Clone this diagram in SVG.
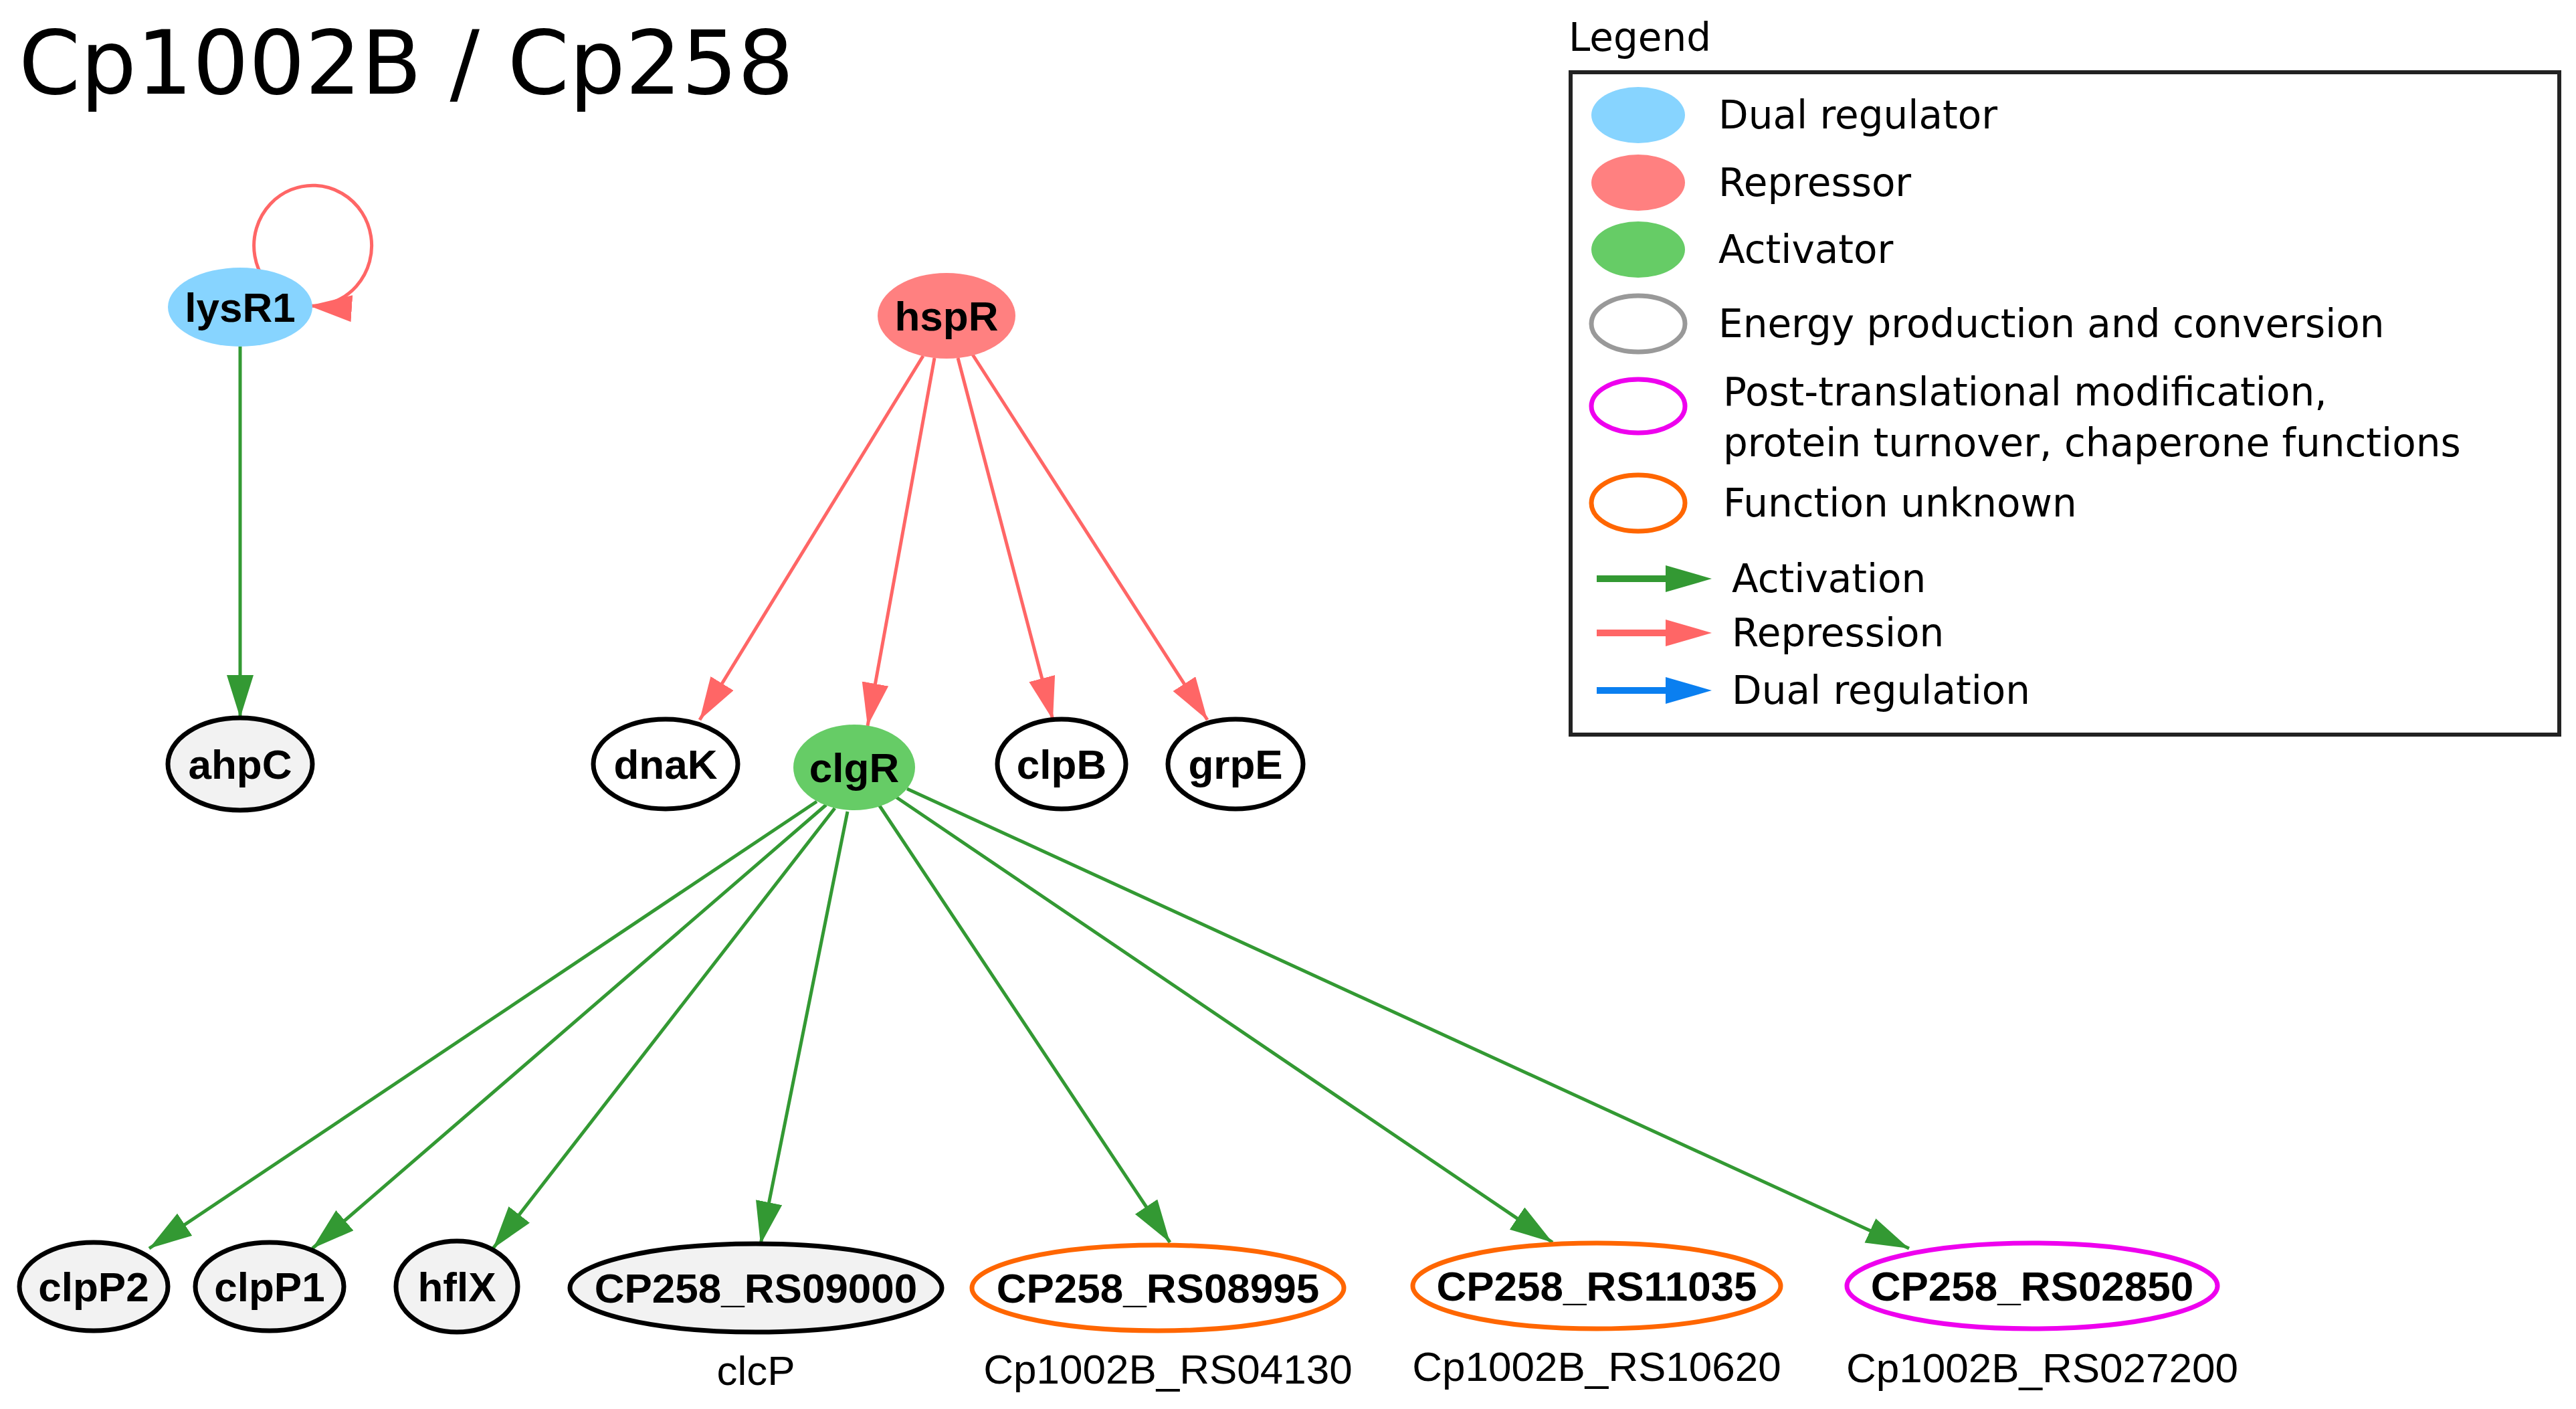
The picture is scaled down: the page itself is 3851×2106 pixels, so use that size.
<svg xmlns="http://www.w3.org/2000/svg" width="3851" height="2106" viewBox="0 0 3851 2106">
<style>
.n{font-family:"Liberation Sans",Arial,sans-serif;font-weight:bold;font-size:62px;text-anchor:middle;dominant-baseline:central;fill:#000}
.s{font-family:"Liberation Sans",Arial,sans-serif;font-size:62px;text-anchor:middle;fill:#000}
.l{font-family:"DejaVu Sans",sans-serif;font-size:58px;fill:#000}
.g{fill:#f2f2f2;stroke:#000;stroke-width:7}
.w{fill:#fff;stroke:#000;stroke-width:7}
.act{stroke:#339933;stroke-width:5;fill:none;marker-end:url(#ag)}
.rep{stroke:#ff6666;stroke-width:5;fill:none;marker-end:url(#ar)}
</style>
<defs>
<marker id="ag" markerUnits="userSpaceOnUse" markerWidth="70" markerHeight="50" refX="64" refY="20" orient="auto"><path d="M0,0 L64,20 L0,40 Z" fill="#339933"/></marker>
<marker id="ar" markerUnits="userSpaceOnUse" markerWidth="70" markerHeight="50" refX="64" refY="20" orient="auto"><path d="M0,0 L64,20 L0,40 Z" fill="#ff6666"/></marker>
</defs>
<rect width="3851" height="2106" fill="#fff"/>
<text x="28" y="140" font-family="DejaVu Sans,sans-serif" font-size="132">Cp1002B / Cp258</text>
<g id="edges">
<path class="rep" d="M395,418 A88,90 0 1 1 462,457"/>
<line class="act" x1="359" y1="518" x2="359" y2="1073"/>
<line class="rep" x1="1380" y1="532" x2="1046" y2="1076"/>
<line class="rep" x1="1397" y1="535" x2="1297" y2="1085"/>
<line class="rep" x1="1432" y1="535" x2="1574" y2="1076"/>
<line class="rep" x1="1454" y1="530" x2="1805" y2="1076"/>
<line class="act" x1="1221" y1="1198" x2="223" y2="1866"/>
<line class="act" x1="1235" y1="1203" x2="467" y2="1866"/>
<line class="act" x1="1248" y1="1208" x2="737" y2="1866"/>
<line class="act" x1="1267" y1="1213" x2="1137" y2="1860"/>
<line class="act" x1="1314" y1="1203" x2="1749" y2="1857"/>
<line class="act" x1="1339" y1="1191" x2="2321" y2="1857"/>
<line class="act" x1="1356" y1="1179" x2="2854" y2="1866"/>
</g>
<g id="lysR1"><ellipse cx="359" cy="459" rx="108" ry="59" fill="#87d4ff"/><text class="n" x="359" y="459">lysR1</text></g>
<g id="hspR"><ellipse cx="1415" cy="472" rx="103" ry="64" fill="#ff8080"/><text class="n" x="1415" y="472">hspR</text></g>
<g id="ahpC"><ellipse class="g" cx="359" cy="1142" rx="108" ry="69"/><text class="n" x="359" y="1142">ahpC</text></g>
<g id="dnaK"><ellipse class="w" cx="995" cy="1142" rx="108" ry="67"/><text class="n" x="995" y="1142">dnaK</text></g>
<g id="clgR"><ellipse cx="1277" cy="1147" rx="91" ry="64" fill="#66cc66"/><text class="n" x="1277" y="1147">clgR</text></g>
<g id="clpB"><ellipse class="w" cx="1587" cy="1142" rx="96" ry="67"/><text class="n" x="1587" y="1142">clpB</text></g>
<g id="grpE"><ellipse class="w" cx="1847" cy="1142" rx="101" ry="67"/><text class="n" x="1847" y="1142">grpE</text></g>
<g id="clpP2"><ellipse class="g" cx="140" cy="1923" rx="111" ry="66"/><text class="n" x="140" y="1923">clpP2</text></g>
<g id="clpP1"><ellipse class="g" cx="403" cy="1923" rx="111" ry="66"/><text class="n" x="403" y="1923">clpP1</text></g>
<g id="hflX"><ellipse class="g" cx="683" cy="1923" rx="91" ry="68"/><text class="n" x="683" y="1923">hflX</text></g>
<g id="CP258_RS09000"><ellipse class="g" cx="1130" cy="1925" rx="278" ry="66"/><text class="n" x="1130" y="1925">CP258_RS09000</text><text class="s" x="1130" y="2070">clcP</text></g>
<g id="CP258_RS08995"><ellipse cx="1731" cy="1925" rx="278" ry="64" fill="#fff" stroke="#ff6600" stroke-width="7"/><text class="n" x="1731" y="1925">CP258_RS08995</text><text class="s" x="1746" y="2068">Cp1002B_RS04130</text></g>
<g id="CP258_RS11035"><ellipse cx="2387" cy="1922" rx="275" ry="64" fill="#fff" stroke="#ff6600" stroke-width="7"/><text class="n" x="2387" y="1922">CP258_RS11035</text><text class="s" x="2387" y="2064">Cp1002B_RS10620</text></g>
<g id="CP258_RS02850"><ellipse cx="3038" cy="1922" rx="277" ry="64" fill="#fff" stroke="#ee00ee" stroke-width="7"/><text class="n" x="3038" y="1922">CP258_RS02850</text><text class="s" x="3053" y="2066">Cp1002B_RS027200</text></g>
<g id="legend">
<text class="l" x="2345" y="76">Legend</text>
<rect x="2348" y="108" width="1478" height="990" fill="none" stroke="#222" stroke-width="6"/>
<ellipse cx="2449" cy="172" rx="70" ry="42" fill="#87d4ff"/><text class="l" x="2569" y="192">Dual regulator</text>
<ellipse cx="2449" cy="273" rx="70" ry="42" fill="#ff8080"/><text class="l" x="2569" y="293">Repressor</text>
<ellipse cx="2449" cy="373" rx="70" ry="42" fill="#66cc66"/><text class="l" x="2569" y="393">Activator</text>
<ellipse cx="2449" cy="484" rx="70" ry="42" fill="#fff" stroke="#999" stroke-width="7"/><text class="l" x="2569" y="504">Energy production and conversion</text>
<ellipse cx="2449" cy="607" rx="70" ry="40" fill="#fff" stroke="#ee00ee" stroke-width="7"/><text class="l" x="2576" y="606">Post-translational modification,</text><text class="l" x="2576" y="682">protein turnover, chaperone functions</text>
<ellipse cx="2449" cy="752" rx="70" ry="42" fill="#fff" stroke="#ff6600" stroke-width="7"/><text class="l" x="2576" y="772">Function unknown</text>
<line x1="2387" y1="865" x2="2500" y2="865" stroke="#339933" stroke-width="10"/><path d="M2490,845 L2559,865 L2490,885 Z" fill="#339933"/><text class="l" x="2589" y="885">Activation</text>
<line x1="2387" y1="946" x2="2500" y2="946" stroke="#ff6666" stroke-width="10"/><path d="M2490,926 L2559,946 L2490,966 Z" fill="#ff6666"/><text class="l" x="2589" y="966">Repression</text>
<line x1="2387" y1="1032" x2="2500" y2="1032" stroke="#0a7ff0" stroke-width="10"/><path d="M2490,1012 L2559,1032 L2490,1052 Z" fill="#0a7ff0"/><text class="l" x="2589" y="1052">Dual regulation</text>
</g>
</svg>
